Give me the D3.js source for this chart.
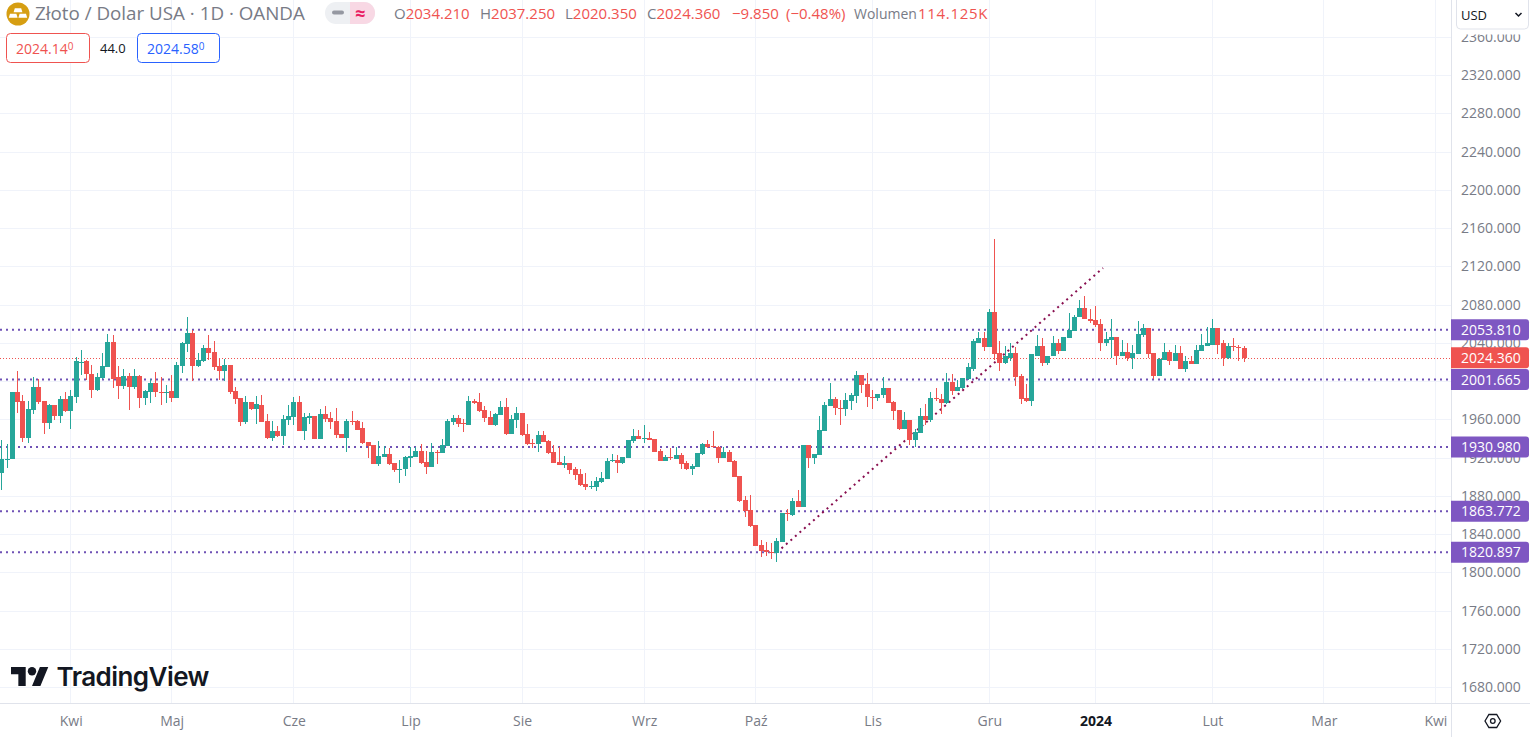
<!DOCTYPE html>
<html>
<head>
<meta charset="utf-8">
<title>Złoto / Dolar USA</title>
<script src="https://cdn.jsdelivr.net/npm/d3@7"></script>
<style>
  html, body { margin: 0; padding: 0; background: #fff; overflow: hidden; }
  svg { display: block; font-family: "Open Sans", sans-serif; }
  .axis path, .axis line { display: none; }
</style>
</head>
<body>
<svg id="chart" width="1530" height="737"></svg>
<script>
const monthLabels = ["Kwi", "Maj", "Cze", "Lip", "Sie", "Wrz", "Paź", "Lis", "Gru", "2024", "Lut", "Mar", "Kwi"]
const monthIndex = [13, 32, 55, 77, 98, 121, 142, 164, 186, 206, 228, 249, 270]
const priceTicks = [1680, 1720, 1760, 1800, 1840, 1880, 1920, 1960, 2000, 2040, 2080, 2120, 2160, 2200, 2240, 2280, 2320, 2360]
const levels = [2053.81, 2001.665, 1930.98, 1863.772, 1820.897]
const lastPrice = 2024.36
const trendIndex = [146, 207.4]
const trendPrice = [1820.897, 2118.3]

const opens = [
  1904.0,1918.7,1918.7,1988.4,1979.0,1940.6,1969.9,1993.7,1979.0,1956.0,
  1974.8,1963.3,1981.1,1968.5,1983.2,2020.1,2020.8,2007.9,1990.5,2003.1,
  2014.9,2040.7,2004.1,1994.7,2005.2,1993.7,2005.2,1982.1,1988.4,1997.8,
  1989.1,1988.4,1989.5,1982.1,2015.6,2038.6,2050.1,2015.6,2020.8,2034.4,
  2030.3,2015.6,2010.4,2016.7,1989.5,1982.1,1957.0,1978.0,1970.6,1975.5,
  1958.0,1940.3,1947.6,1942.4,1959.1,1962.3,1977.9,1947.6,1961.5,1963.3,
  1939.2,1965.4,1961.2,1958.0,1944.4,1940.3,1958.0,1958.0,1950.7,1936.1,
  1932.9,1913.1,1920.4,1923.5,1914.1,1908.2,1907.8,1919.3,1920.4,1926.7,
  1915.2,1909.9,1926.3,1924.6,1931.9,1957.0,1961.2,1955.9,1954.2,1979.0,
  1977.9,1969.6,1962.3,1953.9,1964.3,1972.9,1944.6,1959.3,1966.6,1944.6,
  1934.8,1934.1,1943.6,1937.3,1925.8,1915.3,1911.8,1914.3,1908.0,1902.8,
  1892.3,1889.5,1889.2,1894.4,1897.5,1916.0,1917.4,1914.3,1919.5,1937.3,
  1942.5,1939.7,1940.4,1939.4,1926.8,1916.4,1920.2,1918.5,1922.6,1914.3,
  1908.0,1910.1,1923.7,1934.1,1932.1,1931.0,1919.5,1925.8,1916.4,1900.7,
  1875.6,1865.1,1849.4,1828.5,1823.2,1821.5,1820.1,1831.6,1862.0,1859.9,
  1874.5,1868.1,1933.0,1919.4,1922.5,1947.6,1973.8,1981.1,1972.4,1970.6,
  1979.0,1984.2,2006.2,1996.8,1983.9,1982.1,1985.3,1992.6,1978.0,1969.6,
  1949.7,1959.1,1938.2,1945.5,1963.3,1959.1,1982.1,1981.1,1976.9,1998.9,
  1989.5,1992.6,2002.0,2013.2,2040.4,2044.6,2035.2,2071.8,2028.9,2018.5,
  2024.7,2028.9,2004.9,1981.9,1978.7,2026.8,2036.3,2018.5,2025.8,2040.4,
  2031.0,2044.6,2052.0,2066.6,2077.0,2065.5,2063.5,2059.3,2040.4,2042.5,
  2045.7,2026.8,2030.0,2023.7,2027.9,2047.8,2055.1,2028.9,2004.9,2021.6,
  2030.0,2020.6,2028.9,2013.2,2020.6,2017.4,2031.0,2036.3,2038.3,2055.1,
  2039.4,2023.7,2036.3,2035.6,2034.21
]
const highs = [
  1938.2,1933.7,1988.4,2010.4,1985.3,1979.0,2004.1,2002.0,1979.0,1975.9,
  1974.8,1984.2,1988.4,1990.5,2025.0,2032.4,2021.9,2016.7,2008.3,2029.2,
  2049.1,2048.0,2015.6,2012.5,2008.3,2012.5,2006.2,1990.5,2002.0,2009.3,
  2004.1,1995.7,2006.2,2019.8,2040.7,2066.9,2053.3,2029.2,2037.6,2048.0,
  2041.8,2022.9,2022.9,2016.7,1993.7,1982.1,1984.2,1978.0,1984.2,1985.3,
  1965.4,1958.0,1952.8,1964.3,1974.8,1983.2,1984.2,1966.4,1966.4,1963.3,
  1970.6,1973.7,1967.5,1971.6,1944.4,1960.1,1968.5,1959.1,1957.0,1936.1,
  1932.9,1937.1,1931.9,1929.8,1914.1,1917.2,1921.4,1930.8,1930.8,1934.0,
  1926.7,1935.0,1927.7,1939.2,1960.1,1964.3,1964.3,1960.1,1984.2,1981.1,
  1987.3,1973.7,1968.5,1966.4,1979.0,1982.3,1964.5,1972.9,1966.6,1955.1,
  1939.4,1947.8,1947.8,1938.3,1933.1,1931.0,1921.6,1914.3,1910.1,1908.0,
  1903.8,1895.4,1899.6,1904.9,1919.5,1923.7,1922.6,1920.5,1938.3,1949.8,
  1948.8,1954.0,1946.7,1939.4,1928.9,1922.6,1930.0,1931.0,1924.7,1916.4,
  1913.2,1924.7,1935.2,1938.3,1947.8,1932.1,1931.0,1927.9,1917.4,1900.7,
  1879.8,1880.8,1849.4,1833.7,1831.6,1830.6,1835.8,1862.0,1866.2,1877.7,
  1886.0,1933.0,1933.0,1923.6,1963.3,1978.0,1997.8,1983.2,1980.1,1987.4,
  1987.4,2010.4,2006.2,2008.0,1990.5,1986.3,2004.1,1992.6,1979.0,1969.6,
  1967.5,1959.1,1949.7,1971.7,1975.9,1988.4,1993.3,1986.3,2008.3,2007.3,
  2001.0,2003.1,2018.8,2043.6,2051.9,2050.9,2075.0,2149.2,2041.5,2036.3,
  2040.4,2035.2,2007.0,1996.5,2027.9,2047.8,2044.6,2026.8,2046.7,2043.6,
  2045.7,2070.8,2068.7,2084.4,2088.6,2075.0,2079.1,2065.5,2050.9,2064.5,
  2045.7,2042.5,2040.4,2037.3,2062.4,2059.3,2055.1,2028.9,2023.7,2039.4,
  2032.1,2038.3,2036.3,2025.8,2026.8,2037.3,2048.8,2056.1,2065.5,2055.1,
  2042.5,2039.4,2044.6,2038.3,2037.25
]
const lows = [
  1885.9,1908.6,1918.7,1966.8,1936.5,1935.4,1965.8,1975.9,1944.5,1949.7,
  1959.1,1956.0,1967.5,1949.7,1976.9,2006.2,2001.0,1982.1,1989.5,2002.0,
  2014.9,1992.6,1981.1,1991.6,1969.6,1991.6,1971.7,1974.8,1976.9,1983.2,
  1974.8,1976.9,1978.0,1982.1,2008.3,2030.3,1999.9,2014.6,2019.8,2021.9,
  2011.4,2001.0,1999.9,1986.3,1975.9,1952.9,1954.9,1969.6,1954.9,1957.0,
  1939.2,1937.1,1942.0,1932.9,1953.9,1953.9,1947.6,1938.2,1954.9,1939.2,
  1939.2,1957.0,1949.7,1940.3,1940.3,1925.6,1953.9,1948.6,1934.0,1919.3,
  1913.1,1911.0,1920.4,1912.0,1904.7,1893.2,1900.5,1909.9,1920.4,1913.1,
  1902.6,1909.9,1913.1,1924.6,1931.9,1953.9,1951.8,1946.5,1953.9,1975.8,
  1967.5,1957.0,1953.9,1952.8,1964.3,1943.6,1944.6,1950.9,1942.5,1933.1,
  1930.0,1925.8,1936.2,1923.7,1914.3,1912.2,1909.0,1902.8,1896.5,1890.2,
  1886.0,1887.1,1885.0,1893.3,1897.5,1915.3,1903.8,1913.2,1919.5,1935.2,
  1939.4,1935.2,1938.3,1925.8,1916.4,1916.4,1917.4,1918.5,1908.0,1907.0,
  1901.7,1910.1,1922.6,1930.0,1929.6,1914.3,1919.5,1915.3,1899.6,1873.5,
  1857.8,1847.3,1827.4,1815.9,1817.0,1813.8,1810.7,1831.6,1853.6,1858.8,
  1868.2,1868.1,1908.9,1913.1,1922.5,1947.6,1973.8,1964.4,1953.9,1963.3,
  1969.6,1976.9,1987.4,1972.7,1970.6,1979.0,1982.1,1976.9,1959.1,1948.7,
  1949.7,1933.0,1930.9,1945.5,1953.9,1957.0,1979.0,1965.4,1975.9,1985.3,
  1989.5,1991.6,2001.0,2011.1,2039.4,2031.0,2035.2,2021.6,2010.1,2017.4,
  2020.6,1994.4,1975.6,1977.7,1973.5,2026.8,2015.3,2016.4,2025.8,2027.9,
  2031.0,2044.6,2052.0,2066.6,2064.5,2060.3,2056.1,2031.0,2036.3,2024.7,
  2016.4,2025.8,2020.6,2013.2,2027.9,2045.7,2024.7,2001.7,2004.9,2021.6,
  2016.4,2020.6,2012.2,2009.1,2017.4,2017.4,2031.0,2036.3,2038.3,2027.9,
  2015.3,2022.7,2031.0,2020.6,2020.35
]
const closes = [
  1919.0,1919.0,1988.4,1978.3,1940.6,1970.6,1993.7,1978.0,1956.0,1974.8,
  1963.3,1981.1,1968.5,1984.2,2020.8,2020.5,2007.2,1990.5,2004.1,2015.6,
  2040.7,2002.7,1994.7,2005.2,1993.7,2005.2,1982.1,1989.5,1997.8,1988.4,
  1988.1,1989.1,1982.1,2016.7,2039.7,2050.1,2015.6,2021.9,2034.4,2029.2,
  2014.6,2010.4,2016.7,1988.4,1981.1,1957.0,1978.0,1970.6,1975.9,1957.0,
  1940.3,1947.6,1942.4,1960.1,1963.3,1977.9,1947.6,1962.3,1963.3,1939.2,
  1965.4,1960.1,1957.0,1943.4,1940.3,1958.0,1957.3,1949.3,1935.0,1931.9,
  1913.1,1921.4,1923.5,1913.1,1906.8,1908.5,1920.4,1921.4,1926.7,1914.1,
  1909.9,1925.6,1925.6,1932.9,1958.0,1961.2,1954.9,1955.6,1979.0,1977.6,
  1968.5,1961.2,1953.9,1965.4,1972.7,1944.6,1960.3,1966.6,1943.6,1934.1,
  1934.5,1943.6,1936.2,1924.7,1914.3,1912.2,1914.3,1907.0,1901.7,1891.3,
  1889.2,1890.2,1895.4,1898.6,1916.4,1917.4,1914.3,1920.5,1938.3,1942.5,
  1939.4,1940.4,1938.3,1925.8,1916.4,1920.5,1919.5,1922.6,1913.2,1908.0,
  1911.1,1924.7,1934.1,1931.0,1931.4,1919.5,1925.8,1915.3,1899.6,1874.5,
  1864.1,1848.4,1827.4,1822.2,1821.2,1821.2,1832.7,1862.0,1861.3,1874.5,
  1868.2,1933.0,1919.4,1923.6,1948.7,1974.8,1981.1,1971.7,1971.0,1980.1,
  1985.3,2006.2,1995.7,1983.2,1982.8,1986.3,1992.6,1976.9,1968.5,1949.7,
  1959.1,1938.2,1946.6,1963.3,1959.1,1982.1,1981.5,1976.9,1998.9,1989.5,
  1993.7,2003.1,2014.6,2041.5,2044.6,2035.2,2071.8,2027.9,2018.5,2025.8,
  2028.9,2003.8,1980.8,1978.7,2027.9,2036.3,2018.5,2026.8,2040.4,2031.0,
  2045.7,2053.0,2067.6,2077.0,2064.5,2062.4,2058.2,2040.4,2043.6,2045.7,
  2026.8,2030.0,2023.7,2028.9,2048.8,2055.1,2027.9,2004.9,2022.7,2030.0,
  2020.6,2028.9,2013.2,2020.6,2017.4,2032.1,2037.3,2039.4,2055.1,2038.3,
  2023.7,2036.3,2035.9,2034.9,2024.36
]

const upColor = "#26a69a"
const downColor = "#ef5350"
const gridColor = "#f0f3fa"
const borderColor = "#e0e3eb"
const textColor = "#787b86"
const levelColor = "#6f52b5"
const labelColor = "#7e57c2"
const trendColor = "#880e4f"

const plotW = 1451
const plotB = 703
const svg = d3.select("#chart")

const x = d3.scaleLinear().domain([0, 270]).range([1.7, 1435.4])
const y = d3.scaleLinear().domain([1680, 2360]).range([687, 37])
const px = v => Math.round(v) + 0.5

// grid
svg.append("g").selectAll("line").data(priceTicks).enter().append("line")
  .attr("x1", 0).attr("x2", plotW)
  .attr("y1", d => px(y(d))).attr("y2", d => px(y(d)))
  .attr("stroke", gridColor)

svg.append("g").selectAll("line").data(monthIndex).enter().append("line")
  .attr("x1", d => px(x(d) - 0.5)).attr("x2", d => px(x(d) - 0.5))
  .attr("y1", 0).attr("y2", plotB)
  .attr("stroke", gridColor)

// current price line, levels and trend line
svg.append("line")
  .attr("x1", 0).attr("x2", plotW)
  .attr("y1", px(y(lastPrice))).attr("y2", px(y(lastPrice)))
  .attr("stroke", downColor)
  .attr("stroke-dasharray", "1,2")

svg.append("g").selectAll("line").data(levels).enter().append("line")
  .attr("x1", 0).attr("x2", plotW)
  .attr("y1", d => y(d)).attr("y2", d => y(d))
  .attr("stroke", levelColor)
  .attr("stroke-width", 2)
  .attr("stroke-dasharray", "2,4")

svg.append("line")
  .attr("x1", x(trendIndex[0])).attr("x2", x(trendIndex[1]))
  .attr("y1", y(trendPrice[0])).attr("y2", y(trendPrice[1]))
  .attr("stroke", trendColor)
  .attr("stroke-width", 2)
  .attr("stroke-dasharray", "2,4")

// candles
const candles = svg.append("g").attr("shape-rendering", "crispEdges")
  .selectAll("g").data(d3.range(opens.length)).enter().append("g")
  .attr("fill", i => closes[i] >= opens[i] ? upColor : downColor)

candles.append("rect")
  .attr("x", i => Math.round(x(i) - 0.5))
  .attr("width", 1)
  .attr("y", i => y(highs[i]))
  .attr("height", i => y(lows[i]) - y(highs[i]))

candles.append("rect")
  .attr("x", i => Math.round(x(i) - 0.5) - 2)
  .attr("width", 5)
  .attr("y", i => y(Math.max(opens[i], closes[i])))
  .attr("height", i => Math.max(1, Math.abs(y(opens[i]) - y(closes[i]))))

// logo
const logo = svg.append("g").attr("transform", "translate(11,662.8) scale(1.05)").attr("fill", "#131722")
logo.append("path").attr("d", "M14 22H7V11H0V4h14v18zM28 22h-8l7.5-18h8L28 22z")
logo.append("circle").attr("cx", 20).attr("cy", 8).attr("r", 4)
svg.append("text").text("TradingView")
  .attr("x", 56.5).attr("y", 686)
  .attr("font-family", "Inter")
  .attr("font-size", 26)
  .attr("font-weight", 600)
  .attr("letter-spacing", -0.55)
  .attr("fill", "#131722")

// axes panels
svg.append("rect").attr("x", plotW).attr("y", 0).attr("width", 1530 - plotW).attr("height", 737).attr("fill", "#fff")
svg.append("rect").attr("x", 0).attr("y", plotB).attr("width", 1530).attr("height", 737 - plotB).attr("fill", "#fff")
svg.append("line").attr("x1", plotW + 0.5).attr("x2", plotW + 0.5).attr("y1", 0).attr("y2", 737).attr("stroke", borderColor)
svg.append("line").attr("x1", 0).attr("x2", 1530).attr("y1", plotB + 0.5).attr("y2", plotB + 0.5).attr("stroke", borderColor)

const yAxis = d3.axisRight(y)
  .tickValues(priceTicks)
  .tickFormat(d3.format(".3f"))
  .tickSize(0)
  .tickPadding(10)

svg.append("g")
  .attr("class", "axis")
  .attr("transform", `translate(${plotW}, 0)`)
  .call(yAxis)
  .call(g => g.selectAll("text").attr("fill", textColor).attr("font-size", 14).attr("font-family", "Open Sans"))

const xAxis = d3.axisBottom(x)
  .tickValues(monthIndex)
  .tickFormat((d, i) => monthLabels[i])
  .tickSize(0)
  .tickPadding(13)

svg.append("g")
  .attr("class", "axis")
  .attr("transform", `translate(0, ${plotB})`)
  .call(xAxis)
  .call(g => g.selectAll("text")
    .attr("fill", (d, i) => monthLabels[i] === "2024" ? "#131722" : textColor)
    .attr("font-weight", (d, i) => monthLabels[i] === "2024" ? 700 : 400)
    .attr("font-size", 14)
    .attr("font-family", "Open Sans"))

// price labels
const labels = [...levels.map(v => ({ v, fill: labelColor })), { v: lastPrice, fill: downColor }]
const priceLabel = svg.append("g").selectAll("g").data(labels).enter().append("g")
  .attr("transform", d => `translate(${plotW}, ${y(d.v)})`)
priceLabel.append("path")
  .attr("d", "M0 -10.5H75a3 3 0 0 1 3 3V7.5a3 3 0 0 1 -3 3H0Z")
  .attr("fill", d => d.fill)
priceLabel.append("text")
  .text(d => d3.format(".3f")(d.v))
  .attr("x", 10).attr("y", 5)
  .attr("fill", "#fff")
  .attr("font-size", 14)
  .attr("font-weight", 500)
  .attr("font-family", "Open Sans")

// currency box
svg.append("rect").attr("x", plotW + 1).attr("y", 0).attr("width", 78).attr("height", 34.5).attr("fill", "#fff")
svg.append("rect").attr("x", 1456.5).attr("y", -4).attr("width", 72).attr("height", 33).attr("rx", 4)
  .attr("fill", "#fff").attr("stroke", borderColor)
svg.append("text").text("USD").attr("x", 1461).attr("y", 20).attr("font-size", 13).attr("fill", "#131722")
svg.append("path").attr("d", "M1515.5 13l3 3l3 -3").attr("fill", "none").attr("stroke", "#131722").attr("stroke-width", 1.5)

// settings icon
svg.append("path")
  .attr("d", "M1485 721l3.9 -6.5h7.8l3.9 6.5l-3.9 6.5h-7.8z")
  .attr("fill", "none").attr("stroke", "#131722").attr("stroke-width", 1.3)
svg.append("circle").attr("cx", 1492.8).attr("cy", 721).attr("r", 2.3)
  .attr("fill", "none").attr("stroke", "#131722").attr("stroke-width", 1.3)

// legend header
svg.append("circle").attr("cx", 18).attr("cy", 14).attr("r", 11.5).attr("fill", "#d69e12")
svg.append("path").attr("d", "M14 8h8l1.5 5h-11z M8 15h8l1.5 5h-11z M20 15h8l1.5 5h-11z").attr("fill", "#fff").attr("transform", "translate(0,-1) translate(18,14) scale(0.8) translate(-18,-14)")

svg.append("text").text("Złoto / Dolar USA · 1D · OANDA")
  .attr("x", 35).attr("y", 20)
  .attr("font-size", 18.8)
  .attr("fill", textColor)

svg.append("rect").attr("x", 325).attr("y", 2).attr("width", 50).attr("height", 22).attr("rx", 11).attr("fill", "#eef0f3")
svg.append("path").attr("d", "M350 2h14a11 11 0 0 1 0 22h-14z").attr("fill", "#f8d8e4")
svg.append("rect").attr("x", 332).attr("y", 10.5).attr("width", 12).attr("height", 4).attr("rx", 2).attr("fill", "#9598a1")
svg.append("text").text("≈").attr("x", 355).attr("y", 19.5).attr("font-size", 18).attr("font-weight", 700).attr("fill", "#e91e63")

const ohlcNames = ["O", "H", "L", "C"]
const ohlcValues = ["2034.210", "2037.250", "2020.350", "2024.360"]
const ohlcX = [394, 480, 565, 647]
ohlcNames.forEach((n, i) => {
  const t = svg.append("text").attr("x", ohlcX[i]).attr("y", 19).attr("font-size", 15)
  t.append("tspan").text(n).attr("fill", textColor)
  t.append("tspan").text(ohlcValues[i]).attr("fill", downColor)
})
svg.append("text").text("−9.850").attr("x", 732).attr("y", 19).attr("font-size", 15).attr("fill", downColor)
svg.append("text").text("(−0.48%)").attr("x", 786).attr("y", 19).attr("font-size", 15).attr("fill", downColor)
svg.append("text").text("Wolumen").attr("x", 854).attr("y", 19).attr("font-size", 14).attr("fill", textColor)
svg.append("text").text("114.125K").attr("x", 918).attr("y", 19).attr("font-size", 15).attr("letter-spacing", 0.7).attr("fill", downColor)

// bid / ask boxes
const quoteBox = (bx, w, color, main) => {
  svg.append("rect").attr("x", bx + 0.5).attr("y", 33.5).attr("width", w).attr("height", 29).attr("rx", 4)
    .attr("fill", "#fff").attr("stroke", color)
  const t = svg.append("text").attr("x", bx + 10).attr("y", 54).attr("font-size", 14).attr("fill", color)
  t.append("tspan").text(main)
  t.append("tspan").text("0").attr("font-size", 10).attr("dy", -4)
}
quoteBox(6, 83, downColor, "2024.14")
quoteBox(137, 82, "#2962ff", "2024.58")
svg.append("text").text("44.0").attr("x", 100).attr("y", 53).attr("font-size", 13).attr("fill", "#131722")
</script>
</body>
</html>
